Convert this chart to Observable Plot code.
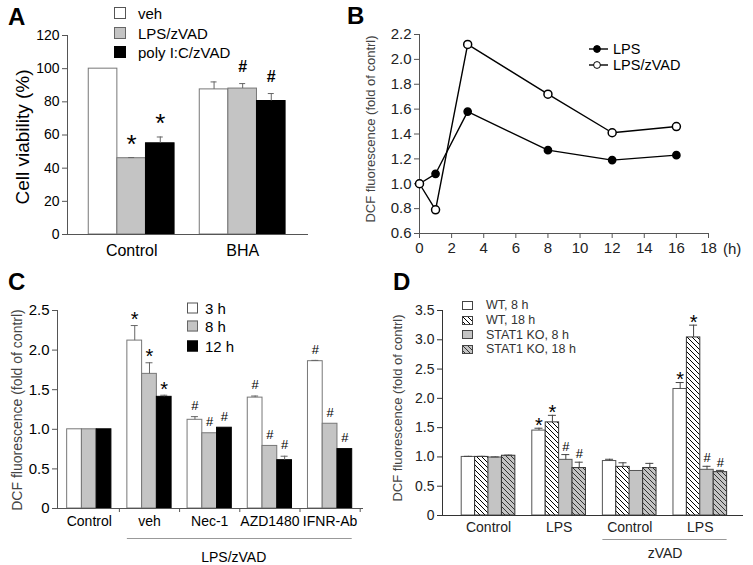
<!DOCTYPE html>
<html>
<head>
<meta charset="utf-8">
<script src="https://cdn.jsdelivr.net/npm/d3@7"></script>
<script src="https://cdn.jsdelivr.net/npm/@observablehq/plot@0.6"></script>
<style>
html,body{margin:0;padding:0;background:#fff;}
#fig{position:relative;width:753px;height:565px;overflow:hidden;font-family:"Liberation Sans",Arial,sans-serif;}
.box{position:absolute;}
.letter{position:absolute;font-weight:bold;font-size:24px;line-height:1;color:#000;}
.ytitle{position:absolute;white-space:nowrap;line-height:1;transform:translate(-50%,-50%) rotate(-90deg);}
.txt{position:absolute;white-space:nowrap;line-height:1;transform:translateY(-50%);}
.sw{position:absolute;box-sizing:border-box;transform:translateY(-50%);}
</style>
</head>
<body>
<svg width="0" height="0" style="position:absolute">
  <defs>
    <pattern id="hatchWhite" patternUnits="userSpaceOnUse" width="5" height="5">
      <rect width="5" height="5" fill="#fff"/>
      <path d="M-1,-1L6,6M-1,4L1,6M4,-1L6,1" stroke="#000" stroke-width="1"/>
    </pattern>
    <pattern id="hatchGray" patternUnits="userSpaceOnUse" width="5" height="5">
      <rect width="5" height="5" fill="#c4c4c4"/>
      <path d="M-1,-1L6,6M-1,4L1,6M4,-1L6,1" stroke="#333" stroke-width="1"/>
    </pattern>
  </defs>
</svg>
<div id="fig"></div>
<script>
// ================= DATA =================
// Panel A
const aGroups = ["Control", "BHA"];
const aSeries = ["veh", "LPS/zVAD", "poly I:C/zVAD"];
const aVeh = [100, 87.5];
const aLps = [46, 88];
const aPoly = [55, 80.5];
const aVehErr = [null, 92];
const aLpsErr = [46.4, 91];
const aPolyErr = [58.8, 85];
const aVehSig = ["", ""];
const aLpsSig = ["*", "#"];
const aPolySig = ["*", "#"];
const aYTicks = [0, 20, 40, 60, 80, 100, 120];

// Panel B
const bSeries = ["LPS", "LPS/zVAD"];
const bTimes = [0, 1, 3, 8, 12, 16];
const bLps = [1.0, 1.08, 1.58, 1.27, 1.19, 1.23];
const bLpsZvad = [1.0, 0.79, 2.12, 1.72, 1.41, 1.46];
const bXTicks = [0, 2, 4, 6, 8, 10, 12, 14, 16, 18];
const bYTicks = [0.6, 0.8, 1.0, 1.2, 1.4, 1.6, 1.8, 2.0, 2.2];

// Panel C
const cGroups = ["Control", "veh", "Nec-1", "AZD1480", "IFNR-Ab"];
const cUnderLpsZvad = [false, true, true, true, true];
const cSeries = ["3 h", "8 h", "12 h"];
const c3h = [1.0, 2.12, 1.12, 1.40, 1.86];
const c8h = [1.0, 1.70, 0.95, 0.79, 1.07];
const c12h = [1.0, 1.41, 1.02, 0.61, 0.75];
const c3hErr = [null, 2.31, 1.16, 1.42, 1.87];
const c8hErr = [null, 1.84, null, null, null];
const c12hErr = [null, 1.43, null, 0.66, null];
const c3hSig = ["", "*", "#", "#", "#"];
const c8hSig = ["", "*", "#", "#", "#"];
const c12hSig = ["", "*", "#", "#", "#"];
const cYTicks = [0, 0.5, 1.0, 1.5, 2.0, 2.5];

// Panel D
const dGroups = ["Control", "LPS", "Control", "LPS"];
const dUnderZvad = [false, false, true, true];
const dSeries = ["WT, 8 h", "WT, 18 h", "STAT1 KO, 8 h", "STAT1 KO, 18 h"];
const dWT8 = [1.00, 1.45, 0.93, 2.16];
const dWT18 = [1.00, 1.59, 0.83, 3.04];
const dKO8 = [0.99, 0.95, 0.76, 0.78];
const dKO18 = [1.02, 0.81, 0.81, 0.74];
const dWT8Err = [1.01, 1.49, 0.96, 2.27];
const dWT18Err = [1.01, 1.71, 0.90, 3.25];
const dKO8Err = [1.00, 1.04, null, 0.84];
const dKO18Err = [1.03, 0.91, 0.89, 0.77];
const dWT8Sig = ["", "*", "", "*"];
const dWT18Sig = ["", "*", "", "*"];
const dKO8Sig = ["", "#", "", "#"];
const dKO18Sig = ["", "#", "", "#"];
const dYTicks = [0, 0.5, 1.0, 1.5, 2.0, 2.5, 3.0, 3.5];

// ================= HELPERS =================
const FONT = '"Liberation Sans", Arial, sans-serif';
const fig = document.getElementById("fig");

function place(el, left, top, w, h) {
  const d = document.createElement("div");
  d.className = "box";
  d.style.left = left + "px"; d.style.top = top + "px";
  d.style.width = w + "px"; d.style.height = h + "px";
  d.appendChild(el); fig.appendChild(d); return d;
}
function addDiv(cls, text, left, top, css) {
  const d = document.createElement("div");
  d.className = cls; d.textContent = text;
  d.style.left = left + "px"; d.style.top = top + "px";
  Object.assign(d.style, css || {});
  fig.appendChild(d); return d;
}
function fmt1(d) { return d === 0 ? "0" : d.toFixed(1); }

function buildRows(groups, values, errs, sigs, bw) {
  const n = values.length, rows = [];
  groups.forEach((g, gi) => {
    for (let si = 0; si < n; si++) {
      const x1 = gi - n * bw / 2 + si * bw;
      rows.push({g, gi, si, x1, x2: x1 + bw, xc: x1 + bw / 2,
        v: values[si][gi], err: errs[si][gi], sig: sigs[si][gi]});
    }
  });
  return rows;
}

function barPanel(cfg) {
  const rows = buildRows(cfg.groups, cfg.values, cfg.errs, cfg.sigs, cfg.bw);
  const plotW = cfg.width - cfg.ml - cfg.mr;
  const upp = (cfg.xDomain[1] - cfg.xDomain[0]) / plotW;
  const cap = cfg.capPx * upp;
  const withErr = rows.filter(r => r.err != null);
  const n = cfg.values.length;
  const marks = [];
  cfg.fills.forEach((f, si) => marks.push(Plot.rect(rows.filter(r => r.si === si),
    {x1: "x1", x2: "x2", y1: 0, y2: "v", fill: f, stroke: cfg.strokes[si], strokeWidth: 1})));
  marks.push(Plot.ruleX(withErr, {x: "xc", y1: "v", y2: "err", stroke: cfg.errColor, strokeWidth: 1}));
  marks.push(Plot.ruleY(withErr, {y: "err", x1: r => r.xc - cap, x2: r => r.xc + cap, stroke: cfg.errColor, strokeWidth: 1}));
  marks.push(Plot.text(rows.filter(r => r.sig === "*"), {x: "xc", y: r => r.err ?? r.v, text: "sig",
    fontSize: cfg.starSize, dy: cfg.starDy, lineAnchor: "middle", fill: "#000"}));
  marks.push(Plot.text(rows.filter(r => r.sig === "#"), {x: "xc", y: r => r.err ?? r.v, text: "sig",
    fontSize: cfg.hashSize, dy: cfg.hashDy, lineAnchor: "middle", fill: "#000", fontWeight: cfg.hashWeight || "normal"}));
  marks.push(Plot.ruleY([0], {stroke: cfg.axisColor}));
  marks.push(Plot.ruleX([cfg.xDomain[0]], {stroke: cfg.axisColor}));
  marks.push(Plot.axisY({ticks: cfg.yTicks, tickFormat: cfg.yFormat, tickSize: 5, tickPadding: 3,
    fontSize: cfg.yFont, label: null, stroke: cfg.axisColor, fill: cfg.textColor}));
  marks.push(Plot.axisX({ticks: cfg.groups.map((g, i) => i), tickFormat: i => cfg.groups[i], tickSize: 0,
    tickPadding: cfg.xPad, fontSize: cfg.xFont, label: null, fill: cfg.textColor}));
  if (cfg.boundaryTicks) {
    marks.push(Plot.axisX({ticks: cfg.groups.map((g, i) => i + 0.5), tickFormat: () => "", tickSize: 4,
      label: null, stroke: cfg.axisColor}));
  }
  if (cfg.under) {
    const idx = cfg.under.map((u, i) => u ? i : -1).filter(i => i >= 0);
    const i0 = idx[0], i1 = idx[idx.length - 1];
    const datum = {x1: i0 - n * cfg.bw / 2, x2: i1 + n * cfg.bw / 2, xm: (i0 + i1) / 2 + cfg.underShift, label: cfg.underLabel};
    marks.push(Plot.ruleY([datum], {y: 0, x1: "x1", x2: "x2", dy: cfg.underDy, stroke: "#999"}));
    marks.push(Plot.text([datum], {x: "xm", y: 0, text: "label", dy: cfg.underTextDy, fontSize: cfg.xFont, fill: cfg.textColor}));
  }
  return Plot.plot({
    width: cfg.width, height: cfg.height,
    marginLeft: cfg.ml, marginRight: cfg.mr, marginTop: cfg.mt, marginBottom: cfg.mb,
    x: {domain: cfg.xDomain}, y: {domain: cfg.yDomain},
    style: {fontFamily: FONT, background: "transparent", color: "#000", overflow: "visible"},
    marks
  });
}

// ================= PANEL A =================
const plotA = barPanel({
  groups: aGroups, values: [aVeh, aLps, aPoly], errs: [aVehErr, aLpsErr, aPolyErr], sigs: [aVehSig, aLpsSig, aPolySig],
  bw: 0.2577, width: 330, height: 270, ml: 67, mr: 22, mt: 35, mb: 36,
  xDomain: [-0.578, 1.593], yDomain: [0, 120], yTicks: aYTicks, yFormat: d => String(d),
  fills: ["#ffffff", "#c4c4c4", "#000000"], strokes: ["#777", "#777", "#000"], errColor: "#666",
  capPx: 3, starSize: 26, starDy: -13, hashSize: 16, hashDy: -17, hashWeight: "bold",
  axisColor: "#555", textColor: "#000", yFont: 14, xFont: 16, xPad: 10
});
place(plotA, 0, 0, 330, 270);

// ================= PANEL B =================
const bRows = [];
[bLps, bLpsZvad].forEach((vals, si) => bTimes.forEach((t, i) => bRows.push({s: bSeries[si], t, v: vals[i]})));
const plotB = Plot.plot({
  width: 413, height: 270, marginLeft: 79, marginRight: 45, marginTop: 34, marginBottom: 37,
  x: {domain: [0, 18]}, y: {domain: [0.6, 2.2]},
  style: {fontFamily: FONT, background: "transparent", color: "#000", overflow: "visible"},
  marks: [
    Plot.ruleY([0.6], {stroke: "#555"}),
    Plot.ruleX([0], {stroke: "#555"}),
    Plot.axisY({ticks: bYTicks, tickFormat: d => d.toFixed(1), tickSize: 5, tickPadding: 3, fontSize: 15, label: null, stroke: "#555", fill: "#222"}),
    Plot.axisX({ticks: bXTicks, tickSize: 5, tickPadding: 4, fontSize: 15, label: null, stroke: "#555", fill: "#222"}),
    Plot.line(bRows, {x: "t", y: "v", z: "s", stroke: "#000", strokeWidth: 1.4}),
    Plot.dot(bRows.filter(r => r.s === bSeries[0]), {x: "t", y: "v", r: 3.6, fill: "#000", stroke: "#000"}),
    Plot.dot(bRows.filter(r => r.s === bSeries[1]), {x: "t", y: "v", r: 4, fill: "#fff", stroke: "#000"})
  ]
});
place(plotB, 340, 0, 413, 270);

// ================= PANEL C =================
const plotC = barPanel({
  groups: cGroups, values: [c3h, c8h, c12h], errs: [c3hErr, c8hErr, c12hErr], sigs: [c3hSig, c8hSig, c12hSig],
  bw: 0.245, width: 385, height: 275, ml: 57, mr: 22, mt: 20, mb: 57,
  xDomain: [-0.528, 4.555], yDomain: [0, 2.5], yTicks: cYTicks, yFormat: fmt1,
  fills: ["#ffffff", "#c4c4c4", "#000000"], strokes: ["#777", "#777", "#000"], errColor: "#666",
  capPx: 3.5, starSize: 20, starDy: -6, hashSize: 13, hashDy: -11,
  axisColor: "#555", textColor: "#000", yFont: 15, xFont: 14, xPad: 8,
  boundaryTicks: true, under: cUnderLpsZvad, underLabel: "LPS/zVAD", underShift: -0.1, underDy: 30, underTextDy: 49
});
place(plotC, 0, 290, 385, 275);

// ================= PANEL D =================
const plotD = barPanel({
  groups: dGroups, values: [dWT8, dWT18, dKO8, dKO18], errs: [dWT8Err, dWT18Err, dKO8Err, dKO18Err],
  sigs: [dWT8Sig, dWT18Sig, dKO8Sig, dKO18Sig],
  bw: 0.19, width: 368, height: 275, ml: 57, mr: 10, mt: 20, mb: 50,
  xDomain: [-0.652, 3.612], yDomain: [0, 3.5], yTicks: dYTicks, yFormat: fmt1,
  fills: ["#ffffff", "url(#hatchWhite)", "#c4c4c4", "url(#hatchGray)"], strokes: ["#555", "#333", "#555", "#333"], errColor: "#444",
  capPx: 4, starSize: 20, starDy: -3, hashSize: 13, hashDy: -8,
  axisColor: "#333", textColor: "#222", yFont: 14, xFont: 14, xPad: 7,
  under: dUnderZvad, underLabel: "zVAD", underShift: 0, underDy: 24, underTextDy: 38
});
place(plotD, 385, 290, 368, 275);

// ================= LETTERS, TITLES, LEGENDS =================
addDiv("letter", "A", 8, 4.7);
addDiv("letter", "B", 347, 3.7);
addDiv("letter", "C", 8, 269.5);
addDiv("letter", "D", 393, 269.5);

addDiv("ytitle", "Cell viability (%)", 22, 137, {fontSize: "19px", color: "#000"});
addDiv("ytitle", "DCF fluorescence (fold of contrl)", 370, 129, {fontSize: "13px", color: "#444"});
addDiv("ytitle", "DCF fluorescence (fold of contrl)", 17, 410, {fontSize: "14px", color: "#444"});
addDiv("ytitle", "DCF fluorescence (fold of contrl)", 397, 408, {fontSize: "13px", color: "#444"});
addDiv("txt", "(h)", 723, 248, {fontSize: "15px", color: "#222"});

// Legend A
const aFills = ["#fff", "#c4c4c4", "#000"], aBorders = ["#555", "#666", "#000"];
const aLegY = [13, 32.5, 52];
aSeries.forEach((s, i) => {
  addDiv("sw", "", 114, aLegY[i], {width: "12px", height: "12px", background: aFills[i], border: "1px solid " + aBorders[i]});
  addDiv("txt", s, 138, aLegY[i], {fontSize: "15px", color: "#000"});
});

// Legend B
const bLegY = [48.5, 64.5];
bSeries.forEach((s, i) => {
  const svg = d3.create("svg").attr("width", 22).attr("height", 10)
    .style("position", "absolute").style("left", "588px").style("top", (bLegY[i] - 5) + "px");
  svg.append("line").attr("x1", 1).attr("x2", 20).attr("y1", 5).attr("y2", 5).attr("stroke", "#000").attr("stroke-width", 1.4);
  svg.append("circle").attr("cx", 9).attr("cy", 5).attr("r", 3.4).attr("fill", i === 0 ? "#000" : "#fff").attr("stroke", "#000");
  fig.appendChild(svg.node());
  addDiv("txt", s, 613, bLegY[i], {fontSize: "14.5px", color: "#000"});
});

// Legend C
const cLegY = [308, 326, 345.5];
cSeries.forEach((s, i) => {
  addDiv("sw", "", 187, cLegY[i], {width: "11px", height: "11px", background: aFills[i], border: "1px solid " + aBorders[i]});
  addDiv("txt", s, 205, cLegY[i], {fontSize: "15px", color: "#000"});
});

// Legend D
const dLegY = [305, 320, 334.5, 349];
const dLegFill = ["#fff", "url(#hatchWhite)", "#c4c4c4", "url(#hatchGray)"];
dSeries.forEach((s, i) => {
  const svg = d3.create("svg").attr("width", 11).attr("height", 9)
    .style("position", "absolute").style("left", "462px").style("top", (dLegY[i] - 4.5) + "px");
  svg.append("rect").attr("x", 0.5).attr("y", 0.5).attr("width", 10).attr("height", 8)
    .attr("fill", dLegFill[i]).attr("stroke", "#444");
  fig.appendChild(svg.node());
  addDiv("txt", s, 486, dLegY[i], {fontSize: "12.5px", color: "#333"});
});
</script>
</body>
</html>
